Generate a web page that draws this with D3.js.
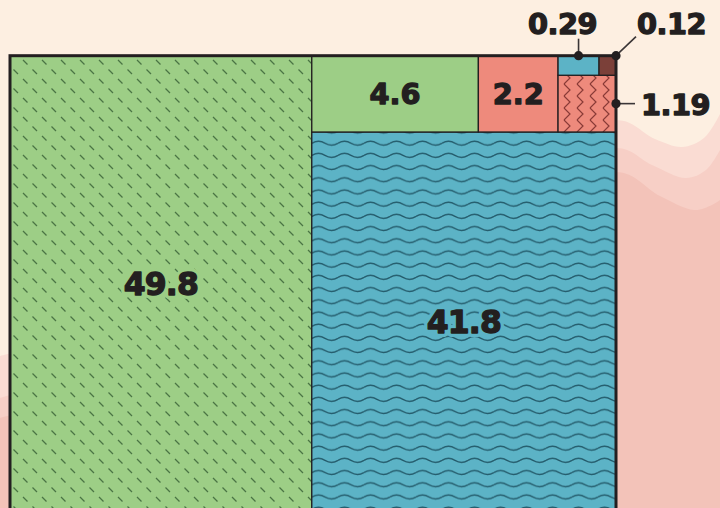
<!DOCTYPE html>
<html><head><meta charset="utf-8">
<script src="https://cdn.jsdelivr.net/npm/d3@7"></script>
<style>html,body{margin:0;padding:0;background:#FDEFE1;} svg{display:block}</style>
</head><body><svg id="c" width="720" height="508"></svg>
<script>
// ---- data ----
const categories = ["A", "B", "C", "D", "E", "F", "G"];
const values = [49.8, 41.8, 4.6, 2.2, 1.19, 0.29, 0.12];
const labels = ["49.8", "41.8", "4.6", "2.2", "1.19", "0.29", "0.12"];

// ---- styles (kept apart from data) ----
const fillOf = {A: "url(#pGreen)", B: "url(#pWave)", C: "#9DCE86", D: "#EE8A7C", E: "url(#pZig)", F: "#5CB3C6", G: "#7B4039"};
const baseOf = {A: "#9DCE86", B: "#5CB3C6", C: "#9DCE86", D: "#EE8A7C", E: "#EE8A7C", F: "#5CB3C6", G: "#7B4039"};
const callout = {E: "right", F: "top", G: "corner"};
const ink = "#231F20";

const svg = d3.select("#c");
const W = 606, H = 456;
const mLeft = 10, mTop = 55.7;

// ---- decorative background hills ----
const hills = [
  {c: "#FADCD3", pts: [[0,356],[200,300],[420,215],[616,120],[655,139],[682,147],[704,138],[720,114]]},
  {c: "#F7CFC6", pts: [[0,398],[250,320],[450,235],[616,148],[652,165],[686,178],[706,170],[720,150]]},
  {c: "#F3C3B9", pts: [[0,418],[250,345],[450,262],[616,172],[660,196],[694,210],[712,205],[720,200]]}
];
const hillArea = d3.area().x(d => d[0]).y0(520).y1(d => d[1]).curve(d3.curveCatmullRom.alpha(0.5));
svg.append("rect").attr("width", 720).attr("height", 508).attr("fill", "#FDEFE1");
svg.selectAll("path.hill").data(hills).join("path").attr("class", "hill")
  .attr("d", d => hillArea(d.pts)).attr("fill", d => d.c);

// ---- patterns ----
const defs = svg.append("defs");
const pg = defs.append("pattern").attr("id", "pGreen").attr("patternUnits", "userSpaceOnUse")
  .attr("width", 19).attr("height", 19).attr("x", 3).attr("y", 2);
pg.append("rect").attr("width", 19).attr("height", 19).attr("fill", "#9DCE86");
pg.append("path").attr("d", "M1,1 L5.5,5.5 M10.5,10.5 L15,15").attr("stroke", "#4A7444").attr("stroke-width", 1.3);

const pw = defs.append("pattern").attr("id", "pWave").attr("patternUnits", "userSpaceOnUse")
  .attr("width", 26).attr("height", 12.2).attr("x", 0).attr("y", 3);
pw.append("rect").attr("width", 26).attr("height", 12.2).attr("fill", "#5CB3C6");
pw.append("path").attr("d", "M0,6 Q6.5,2.2 13,6 T26,6").attr("fill", "none").attr("stroke", "#235A6A").attr("stroke-width", 1.4);

const pz = defs.append("pattern").attr("id", "pZig").attr("patternUnits", "userSpaceOnUse")
  .attr("width", 13).attr("height", 12).attr("x", 561).attr("y", 0);
pz.append("rect").attr("width", 13).attr("height", 12).attr("fill", "#EE8A7C");
pz.append("path").attr("d", "M3,0 L9,6 L3,12").attr("fill", "none").attr("stroke", "#8A3A36").attr("stroke-width", 1.2);

// ---- treemap ----
const root = d3.hierarchy({children: categories.map((c, i) => ({cat: c, value: values[i], label: labels[i]}))})
  .sum(d => d.value || 0)
  .sort((a, b) => b.value - a.value);
d3.treemap().tile(d3.treemapSquarify.ratio(1)).size([W, H])(root);

const x = d3.scaleLinear().domain([0, W]).range([mLeft, mLeft + W]);
const y = d3.scaleLinear().domain([0, H]).range([mTop + H, mTop]); // flipped

const leaves = root.leaves();
const g = svg.append("g");
g.selectAll("rect.cell").data(leaves).join("rect").attr("class", "cell")
  .attr("x", d => x(d.x0)).attr("y", d => y(d.y1))
  .attr("width", d => x(d.x1) - x(d.x0)).attr("height", d => y(d.y0) - y(d.y1))
  .attr("fill", d => fillOf[d.data.cat])
  .attr("stroke", ink).attr("stroke-width", 1.3);

// outer frame
g.append("rect").attr("x", x(0)).attr("y", y(H)).attr("width", x(W) - x(0)).attr("height", y(0) - y(H))
  .attr("fill", "none").attr("stroke", ink).attr("stroke-width", 3);

const font = "'DejaVu Sans', sans-serif";

// inner labels (halo layer, then heavy ink layer)
const inner = leaves.filter(d => !callout[d.data.cat]);
["halo", "ink"].forEach(layer => {
  g.selectAll("text.in-" + layer).data(inner).join("text").attr("class", "in-" + layer)
    .attr("x", d => (x(d.x0) + x(d.x1)) / 2)
    .attr("y", d => (y(d.y0) + y(d.y1)) / 2)
    .attr("dy", "0.365em")
    .attr("text-anchor", "middle")
    .attr("font-family", font).attr("font-weight", "bold")
    .attr("font-size", d => d.value > 10 ? 31.5 : 28.8)
    .attr("letter-spacing", d => d.value > 10 ? -0.8 : 0)
    .attr("fill", d => layer === "halo" ? baseOf[d.data.cat] : ink)
    .attr("stroke", d => layer === "halo" ? baseOf[d.data.cat] : ink)
    .attr("stroke-width", layer === "halo" ? 8 : 1.3)
    .attr("stroke-linejoin", "round")
    .text(d => d.data.label);
});

// callouts
const outs = leaves.filter(d => callout[d.data.cat]).map(d => {
  const xl = x(d.x0), xr = x(d.x1), yt = y(d.y1), yb = y(d.y0);
  const k = callout[d.data.cat];
  let ax, ay, lx, ly, tx, ty, anchor;
  if (k === "top") { ax = (xl + xr) / 2; ay = yt; lx = ax; ly = yt - 17; tx = ax - 16; ty = yt - 21.5; anchor = "middle"; }
  else if (k === "corner") { ax = xr; ay = yt; lx = xr + 20; ly = yt - 19; tx = xr + 21; ty = yt - 21.5; anchor = "start"; }
  else { ax = xr; ay = (yt + yb) / 2; lx = xr + 19; ly = ay; tx = xr + 25; ty = ay + 11.5; anchor = "start"; }
  return {d, ax, ay, lx, ly, tx, ty, anchor};
});
g.selectAll("line.lead").data(outs).join("line").attr("class", "lead")
  .attr("x1", o => o.ax).attr("y1", o => o.ay).attr("x2", o => o.lx).attr("y2", o => o.ly)
  .attr("stroke", "#3A3536").attr("stroke-width", 1.6);
g.selectAll("circle.dot").data(outs).join("circle").attr("class", "dot")
  .attr("cx", o => o.ax).attr("cy", o => o.ay).attr("r", 4.6).attr("fill", ink);
g.selectAll("text.out").data(outs).join("text").attr("class", "out")
  .attr("x", o => o.tx).attr("y", o => o.ty)
  .attr("text-anchor", o => o.anchor)
  .attr("font-family", font).attr("font-weight", "bold").attr("font-size", 28.8)
  .attr("letter-spacing", -0.5)
  .attr("fill", ink).attr("stroke", ink).attr("stroke-width", 1.3).attr("stroke-linejoin", "round")
  .text(o => o.d.data.label);
</script>
</body></html>
